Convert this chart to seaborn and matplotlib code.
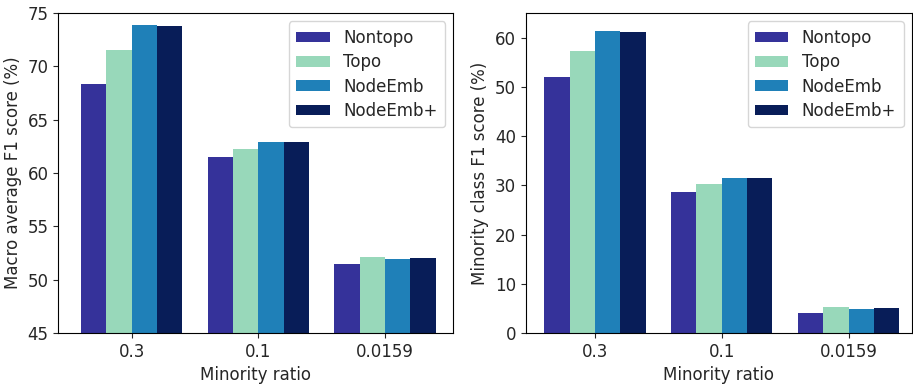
import numpy as np
import pandas as pd
import matplotlib
matplotlib.use("Agg")
import matplotlib.pyplot as plt
import seaborn as sns

ratios = ["0.3", "0.1", "0.0159"]
methods = ["Nontopo", "Topo", "NodeEmb", "NodeEmb+"]
colors = ["#35329a", "#98d8ba", "#1f80b8", "#081d58"]

macro_f1 = {
    "Nontopo": [68.4, 61.5, 51.5],
    "Topo": [71.5, 62.3, 52.1],
    "NodeEmb": [73.9, 62.9, 51.9],
    "NodeEmb+": [73.8, 62.9, 52.0],
}
minority_f1 = {
    "Nontopo": [52.0, 28.7, 4.0],
    "Topo": [57.4, 30.2, 5.3],
    "NodeEmb": [61.3, 31.4, 4.9],
    "NodeEmb+": [61.2, 31.4, 5.0],
}

def to_df(d):
    rows = []
    for m in methods:
        for r, v in zip(ratios, d[m]):
            rows.append({"ratio": r, "method": m, "value": v})
    return pd.DataFrame(rows)

sns.set_style("ticks")
plt.rcParams["font.family"] = ["DejaVu Sans"]
fs = 12

fig = plt.figure(figsize=(9.13, 3.84), dpi=100)
ax1 = fig.add_axes([0.0639, 0.1328, 0.4326, 0.833])
ax2 = fig.add_axes([0.576, 0.1328, 0.4228, 0.833])

for ax, d, ylabel, ylim, xlim in [
    (ax1, macro_f1, "Macro average F1 score (%)", (45, 75), (-0.58, 2.54)),
    (ax2, minority_f1, "Minority class F1 score (%)", (0, 65), (-0.545, 2.5)),
]:
    sns.barplot(data=to_df(d), x="ratio", y="value", hue="method",
                order=ratios, hue_order=methods, palette=colors,
                saturation=1, linewidth=0, width=0.8, ax=ax)
    ax.set_ylim(*ylim)
    ax.set_xlim(*xlim)
    ax.set_xlabel("Minority ratio", fontsize=fs)
    ax.set_ylabel(ylabel, fontsize=fs)
    ax.tick_params(labelsize=fs)
    for s in ax.spines.values():
        s.set_visible(True)
        s.set_color("black")
    ax.legend(loc="upper right", fontsize=fs, title=None,
              labelspacing=0.38, handleheight=0.6, borderpad=0.45)

fig.savefig("out.png", dpi=100)
